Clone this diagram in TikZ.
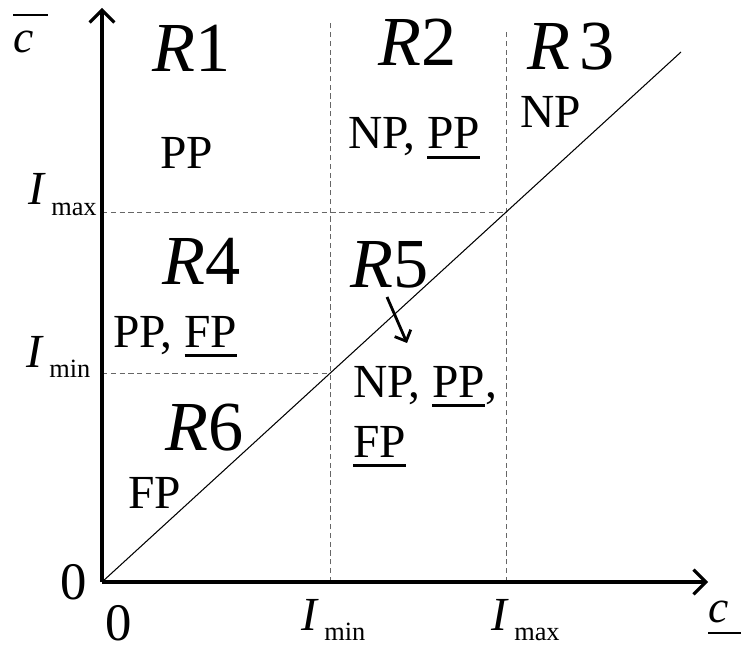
\documentclass[tikz,border=0pt]{standalone}
\usepackage{fontspec}
\setmainfont{Liberation Serif}
\usetikzlibrary{arrows.meta}

% region names, interval labels, thick underline
\newcommand{\Rlab}[1]{{\fontsize{40}{40}\selectfont\textit{R}#1}}
\newcommand{\Ilab}[1]{{\fontsize{27}{27}\selectfont\textit{I}}\hspace{3pt}\raisebox{-6pt}{\fontsize{15}{15}\selectfont #1}}
\newcommand{\ulbar}[1]{\setbox0\hbox{#1}\rlap{\rule[-5.5pt]{\wd0}{1.6pt}}\box0}

\tikzset{
	axisline/.style={line width=1.8pt, -{Straight Barb[length=7pt,width=14pt,line width=1.8pt]}},
	gridline/.style={black!60, line width=0.5pt, dash pattern=on 3pt off 2pt},
	region/.style={anchor=base west, inner sep=0pt},
	lbl/.style={anchor=base west, inner sep=0pt, align=left, font=\fontsize{27}{34}\selectfont},
}

\begin{document}
\begin{tikzpicture}
	\useasboundingbox (-2.04,-1.32) rectangle (12.78,11.64);

	\coordinate (O) at (0,0);
	\coordinate (ytop) at (0,11.48);
	\coordinate (xend) at (12.12,0);
	\coordinate (Imin) at (4.56,4.18);
	\coordinate (Imax) at (8.08,7.40);

	% dashed thresholds
	\draw[gridline] (O -| Imin) -- (4.56,11.20);
	\draw[gridline] (O -| Imax) -- (8.08,11.04);
	\draw[gridline] (O |- Imax) -- (Imax);
	\draw[gridline] (O |- Imin) -- (Imin);

	% diagonal c = cbar
	\draw[line width=0.6pt] (O) -- (11.58,10.60);

	% axes
	\draw[axisline] (O) -- (ytop);
	\draw[axisline] (O) -- (xend);

	% axis labels
	\node[region] (cbar) at (-1.78,10.58) {\fontsize{26}{26}\selectfont\rlap{\rule[21pt]{20pt}{1.1pt}}\textit{c}};
	\node[region] (cund) at (12.12,-0.80) {\fontsize{26}{26}\selectfont\rlap{\rule[-7pt]{20pt}{1.1pt}}\textit{c}};
	\node[region, font=\fontsize{30}{30}\selectfont] (zy) at (-0.84,-0.34) {0};
	\node[region, font=\fontsize{30}{30}\selectfont] (zx) at (0.06,-1.16) {0};
	\node[region] (imaxy) at (-1.48,7.54) {\Ilab{max}};
	\node[region] (iminy) at (-1.52,4.30) {\Ilab{min}};
	\node[region] (iminx) at (3.98,-0.96) {\Ilab{min}};
	\node[region] (imaxx) at (7.78,-0.96) {\Ilab{max}};

	% regions
	\node[region] (r1) at (1.00,10.20) {\Rlab{1}};
	\node[region] (r2) at (5.52,10.32) {\Rlab{2}};
	\node[region] (r3) at (8.50,10.24) {\Rlab{\hspace{5pt}3}};
	\node[region] (r4) at (1.20,5.94) {\Rlab{4}};
	\node[region] (r5) at (4.96,5.90) {\Rlab{5}};
	\node[region] (r6) at (1.26,2.64) {\Rlab{6}};

	% equilibria in each region (multi-line: base is the last line)
	\node[lbl] (pp1) at (1.16,8.26) {PP};
	\node[lbl] (np2) at (4.92,8.66) {NP, \ulbar{PP}};
	\node[lbl] (np3) at (8.36,9.08) {NP};
	\node[lbl] (pp4) at (0.22,4.70) {PP, \ulbar{FP}};
	\node[lbl] (np5) at (5.02,2.50) {NP, \ulbar{PP},\\\ulbar{FP}};
	\node[lbl] (fp6) at (0.52,1.48) {FP};

	% R5 pointer
	\coordinate (a5) at (5.70,5.70);
	\coordinate (b5) at (6.10,4.78);
	\draw[line width=1.6pt, -{Straight Barb[length=5pt,width=10pt,line width=1.6pt]}] (a5) -- (b5);
\end{tikzpicture}
\end{document}
